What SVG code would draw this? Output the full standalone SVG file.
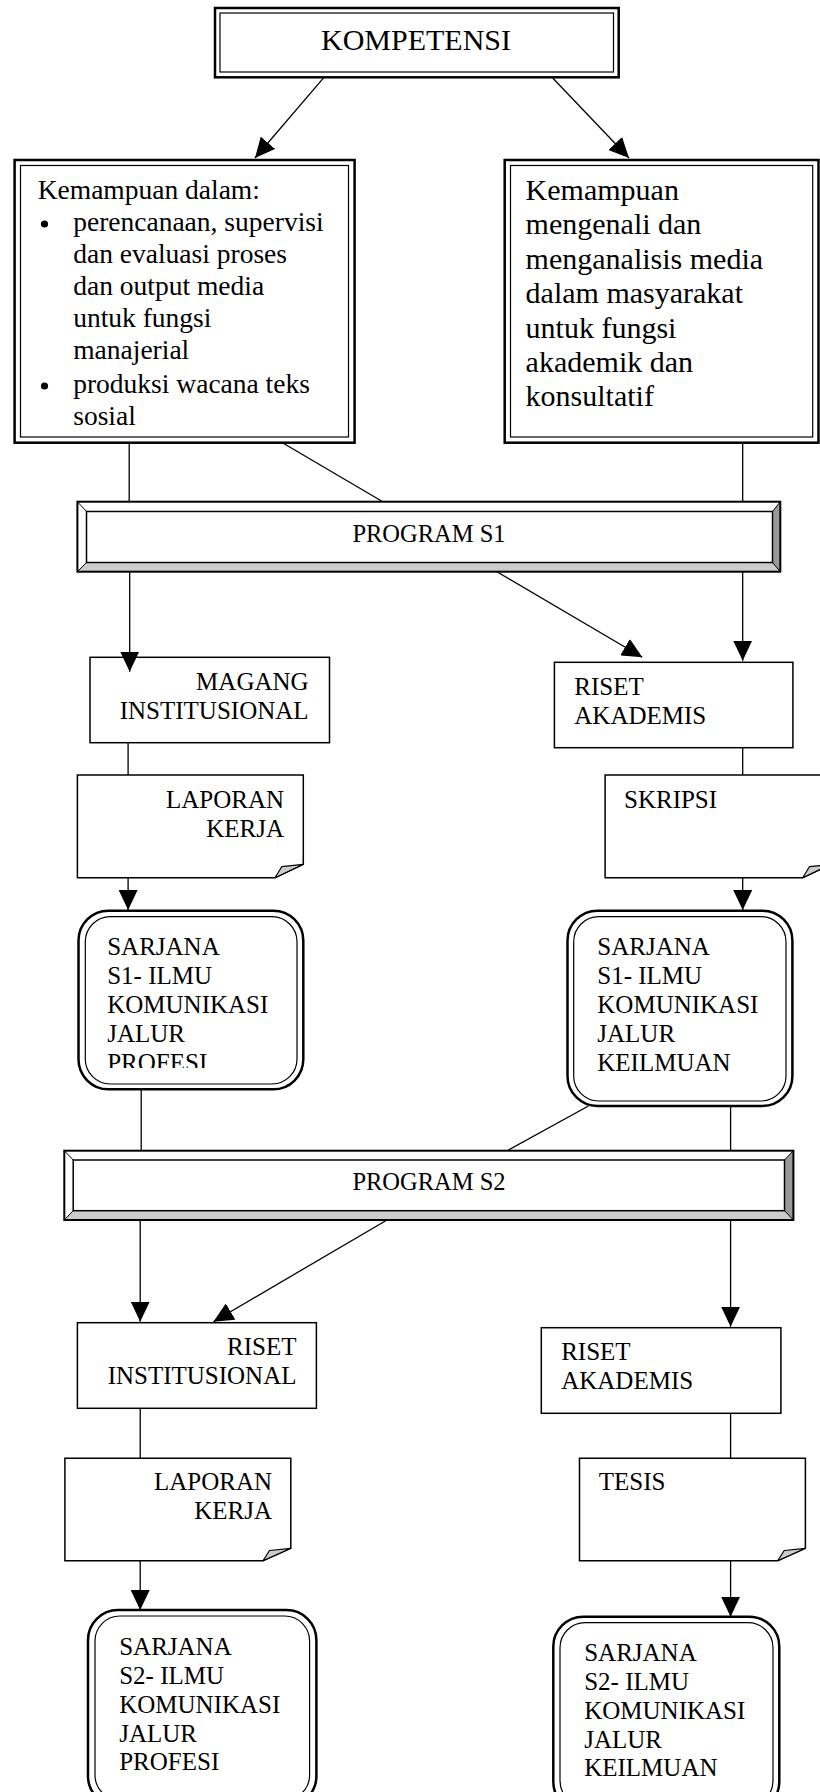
<svg xmlns="http://www.w3.org/2000/svg" width="820" height="1792" viewBox="0 0 820 1792">
<style>
text{font-family:"Liberation Serif","Times New Roman",serif;fill:#000}
.t25{font-size:25px}
.t30{font-size:30px}
.t27{font-size:27.5px}
.tb{font-size:24.5px}
.box{fill:#fff;stroke:#000;stroke-width:1.5}
.dout{fill:#fff;stroke:#000;stroke-width:2.5}
.din{fill:none;stroke:#000;stroke-width:1.2}
.fold{fill:#ccc;stroke:#000;stroke-width:1.2;stroke-linejoin:round}
.ln{stroke:#000;stroke-width:1.3;fill:none}
.arr{marker-end:url(#ah)}
.bev1{fill:#ccc}
.bev2{fill:#999}
.thin{stroke:#000;stroke-width:1}
.end{text-anchor:end}
.mid{text-anchor:middle}
</style>
<defs>
<marker id="ah" markerUnits="userSpaceOnUse" markerWidth="20" markerHeight="19" refX="20" refY="9.5" orient="auto">
<path d="M0,0 L20,9.5 L0,19 Z" fill="#000"/>
</marker>
<clipPath id="clipS1L"><rect x="80" y="912" width="220" height="156"/></clipPath>
</defs>
<rect width="820" height="1792" fill="#fff"/>

<g id="connectors">
<line class="ln arr" x1="324" y1="77.3" x2="255" y2="158"/>
<line class="ln arr" x1="552" y1="77.3" x2="629" y2="158"/>
<line class="ln" x1="129.2" y1="442.7" x2="129.2" y2="501.7"/>
<line class="ln" x1="282.4" y1="442.7" x2="382.8" y2="501.7"/>
<line class="ln" x1="742.7" y1="442.7" x2="742.7" y2="501.7"/>
<line class="ln arr" x1="496.9" y1="571.7" x2="642.3" y2="657.3"/>
<line class="ln arr" x1="742.7" y1="571.7" x2="742.7" y2="660.7"/>
<line class="ln" x1="128.1" y1="742.7" x2="128.1" y2="775"/>
<line class="ln" x1="742.7" y1="747.7" x2="742.7" y2="775"/>
<line class="ln arr" x1="128.1" y1="877.7" x2="128.1" y2="910"/>
<line class="ln arr" x1="742.7" y1="877.7" x2="742.7" y2="910"/>
<line class="ln" x1="141.2" y1="1089.3" x2="141.2" y2="1150.7"/>
<line class="ln" x1="588.4" y1="1106" x2="507.3" y2="1150.7"/>
<line class="ln" x1="730.6" y1="1106" x2="730.6" y2="1150.7"/>
<line class="ln arr" x1="140.2" y1="1220" x2="140.2" y2="1321.7"/>
<line class="ln arr" x1="387" y1="1220" x2="213.4" y2="1321.7"/>
<line class="ln arr" x1="730.6" y1="1220" x2="730.6" y2="1326.7"/>
<line class="ln" x1="140.2" y1="1408.3" x2="140.2" y2="1458.3"/>
<line class="ln" x1="730.6" y1="1413.3" x2="730.6" y2="1458.3"/>
<line class="ln arr" x1="140.2" y1="1560.7" x2="140.2" y2="1610"/>
<line class="ln arr" x1="730.6" y1="1560.7" x2="730.6" y2="1616.7"/>
</g>

<g id="kompetensi">
<rect class="dout" x="215" y="8" width="403.7" height="69.3"/>
<rect class="din" x="220" y="13" width="393.5" height="59"/>
<text class="t30 mid" x="416" y="50">KOMPETENSI</text>
</g>

<g id="kemampuan-kiri">
<rect class="dout" x="14.6" y="160" width="340" height="282.7"/>
<rect class="din" x="20.5" y="165.5" width="328" height="271.5"/>
<text class="t27" x="37.7" y="199">Kemampuan dalam:</text>
<circle cx="44.5" cy="224" r="3.6"/>
<text class="t27" x="73.2" y="231">perencanaan, supervisi</text>
<text class="t27" x="73.2" y="263">dan evaluasi proses</text>
<text class="t27" x="73.2" y="295">dan output media</text>
<text class="t27" x="73.2" y="327">untuk fungsi</text>
<text class="t27" x="73.2" y="359">manajerial</text>
<circle cx="44.5" cy="386" r="3.6"/>
<text class="t27" x="73.2" y="393">produksi wacana teks</text>
<text class="t27" x="73.2" y="425">sosial</text>
</g>

<g id="kemampuan-kanan">
<rect class="dout" x="504.7" y="160" width="313.8" height="282.7"/>
<rect class="din" x="510.5" y="165.5" width="302.2" height="271.5"/>
<text class="t30" x="525.6" y="200">Kemampuan</text>
<text class="t30" x="525.6" y="234.4">mengenali dan</text>
<text class="t30" x="525.6" y="268.8">menganalisis media</text>
<text class="t30" x="525.6" y="303.2">dalam masyarakat</text>
<text class="t30" x="525.6" y="337.6">untuk fungsi</text>
<text class="t30" x="525.6" y="372">akademik dan</text>
<text class="t30" x="525.6" y="406.4">konsultatif</text>
</g>

<g id="program-s1">
<rect x="77.4" y="501.7" width="702.9" height="70" fill="#fff"/>
<polygon class="bev1" points="77.4,571.7 86.5,562.5 772.5,562.5 780.3,571.7"/>
<polygon class="bev2" points="780.3,501.7 772.5,511.5 772.5,562.5 780.3,571.7"/>
<line class="thin" x1="77.4" y1="501.7" x2="86.5" y2="511.5"/>
<line class="thin" x1="780.3" y1="501.7" x2="772.5" y2="511.5"/>
<line class="thin" x1="77.4" y1="571.7" x2="86.5" y2="562.5"/>
<line class="thin" x1="780.3" y1="571.7" x2="772.5" y2="562.5"/>
<rect x="86.5" y="511.5" width="686" height="51" fill="#fff" stroke="#000" stroke-width="1.5"/>
<rect x="77.4" y="501.7" width="702.9" height="70" fill="none" stroke="#000" stroke-width="2"/>
<text class="tb mid" x="429" y="541.7">PROGRAM S1</text>
</g>

<g id="magang">
<rect class="box" x="90" y="657.3" width="239.5" height="85.4"/>
<text class="t25 end" x="308.6" y="690">MAGANG</text>
<text class="t25 end" x="308.6" y="719.3">INSTITUSIONAL</text>
</g>

<g id="connector-magang">
<line class="ln arr" x1="129.7" y1="571.7" x2="129.7" y2="671.7"/>
</g>

<g id="riset-akademis-1">
<rect class="box" x="554.4" y="662.3" width="238.5" height="85.4"/>
<text class="t25" x="574.3" y="695">RISET</text>
<text class="t25" x="574.3" y="724">AKADEMIS</text>
</g>

<g id="laporan-kerja-1">
<path class="box" d="M77.4,775 H303.3 V864.3 L275,877.7 H77.4 Z"/>
<polygon class="fold" points="275,877.7 281.7,866.7 303.3,864.3"/>
<text class="t25 end" x="284" y="808.3">LAPORAN</text>
<text class="t25 end" x="284" y="837.3">KERJA</text>
</g>

<g id="skripsi">
<path class="box" d="M605.1,775 H831 V864.3 L802.7,877.7 H605.1 Z"/>
<polygon class="fold" points="802.7,877.7 809.4,866.7 831,864.3"/>
<text class="t25" x="624" y="808.3">SKRIPSI</text>
</g>

<g id="sarjana-s1-profesi">
<rect class="dout" x="78.5" y="910.7" width="224.8" height="178.6" rx="30" ry="30"/>
<rect class="din" x="85.3" y="916.7" width="211.7" height="167.3" rx="25" ry="25"/>
<g clip-path="url(#clipS1L)">
<text class="t25" x="107.2" y="955">SARJANA</text>
<text class="t25" x="107.2" y="984">S1- ILMU</text>
<text class="t25" x="107.2" y="1013">KOMUNIKASI</text>
<text class="t25" x="107.2" y="1042">JALUR</text>
<text class="t25" x="107.2" y="1071">PROFESI</text>
</g>
</g>

<g id="sarjana-s1-keilmuan">
<rect class="dout" x="567.5" y="910.7" width="224.9" height="195.3" rx="30" ry="30"/>
<rect class="din" x="573.7" y="916.7" width="212.3" height="184.3" rx="25" ry="25"/>
<text class="t25" x="597.3" y="955">SARJANA</text>
<text class="t25" x="597.3" y="984">S1- ILMU</text>
<text class="t25" x="597.3" y="1013">KOMUNIKASI</text>
<text class="t25" x="597.3" y="1042">JALUR</text>
<text class="t25" x="597.3" y="1071">KEILMUAN</text>
</g>

<g id="program-s2">
<rect x="64.3" y="1150.7" width="729.1" height="69.3" fill="#fff"/>
<polygon class="bev1" points="64.3,1220 73.2,1210.7 784.5,1210.7 793.4,1220"/>
<polygon class="bev2" points="793.4,1150.7 784.5,1160 784.5,1210.7 793.4,1220"/>
<line class="thin" x1="64.3" y1="1150.7" x2="73.2" y2="1160"/>
<line class="thin" x1="793.4" y1="1150.7" x2="784.5" y2="1160"/>
<line class="thin" x1="64.3" y1="1220" x2="73.2" y2="1210.7"/>
<line class="thin" x1="793.4" y1="1220" x2="784.5" y2="1210.7"/>
<rect x="73.2" y="1160" width="711.3" height="50.7" fill="#fff" stroke="#000" stroke-width="1.5"/>
<rect x="64.3" y="1150.7" width="729.1" height="69.3" fill="none" stroke="#000" stroke-width="2"/>
<text class="tb mid" x="429" y="1190">PROGRAM S2</text>
</g>

<g id="riset-institusional">
<rect class="box" x="77.4" y="1322.7" width="239" height="85.6"/>
<text class="t25 end" x="296.5" y="1355">RISET</text>
<text class="t25 end" x="296.5" y="1384">INSTITUSIONAL</text>
</g>

<g id="riset-akademis-2">
<rect class="box" x="541.3" y="1327.7" width="239.6" height="85.6"/>
<text class="t25" x="561.2" y="1360">RISET</text>
<text class="t25" x="561.2" y="1389.3">AKADEMIS</text>
</g>

<g id="laporan-kerja-2">
<path class="box" d="M64.9,1458.3 H290.8 V1548.3 L263,1560.7 H64.9 Z"/>
<polygon class="fold" points="263,1560.7 269.5,1550.5 290.8,1548.3"/>
<text class="t25 end" x="272" y="1490">LAPORAN</text>
<text class="t25 end" x="272" y="1519">KERJA</text>
</g>

<g id="tesis">
<path class="box" d="M579.5,1458.3 H805.4 V1548.3 L777.7,1560.7 H579.5 Z"/>
<polygon class="fold" points="777.7,1560.7 784.2,1550.5 805.4,1548.3"/>
<text class="t25" x="598.8" y="1490">TESIS</text>
</g>

<g id="sarjana-s2-profesi">
<rect class="dout" x="88" y="1610" width="228.4" height="196" rx="30" ry="30"/>
<rect class="din" x="95" y="1616" width="214.6" height="184" rx="25" ry="25"/>
<text class="t25" x="119.2" y="1655">SARJANA</text>
<text class="t25" x="119.2" y="1684">S2- ILMU</text>
<text class="t25" x="119.2" y="1713">KOMUNIKASI</text>
<text class="t25" x="119.2" y="1742">JALUR</text>
<text class="t25" x="119.2" y="1770">PROFESI</text>
</g>

<g id="sarjana-s2-keilmuan">
<rect class="dout" x="553.3" y="1616.7" width="226" height="195" rx="30" ry="30"/>
<rect class="din" x="560" y="1622.7" width="213" height="183" rx="25" ry="25"/>
<text class="t25" x="584.2" y="1661">SARJANA</text>
<text class="t25" x="584.2" y="1690">S2- ILMU</text>
<text class="t25" x="584.2" y="1719">KOMUNIKASI</text>
<text class="t25" x="584.2" y="1747.5">JALUR</text>
<text class="t25" x="584.2" y="1776">KEILMUAN</text>
</g>
</svg>
